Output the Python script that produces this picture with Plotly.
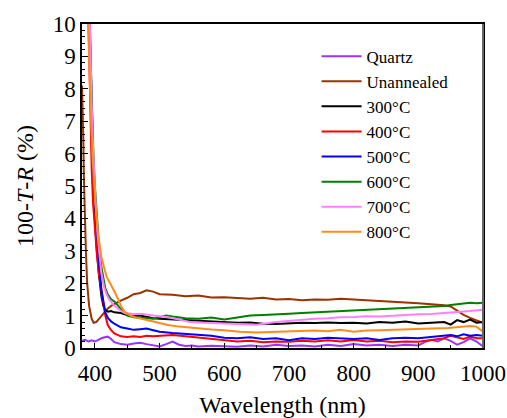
import plotly.graph_objects as go

# ---------------- data ----------------
quartz_x = [380,385,390,395,400,405,410,415,420,425,430,440,450,460,470,480,490,500,510,520,530,540,550,560,580,600,620,640,660,680,700,720,740,760,780,800,820,840,860,880,900,910,920,930,940,950,960,970,980,990,1000]
quartz_y = [0.22,0.25,0.2,0.24,0.2,0.26,0.3,0.33,0.35,0.28,0.18,0.12,0.1,0.14,0.16,0.12,0.08,0.05,0.12,0.2,0.1,0.06,0.08,0.05,0.07,0.05,0.04,0.08,0.05,0.1,0.06,0.08,0.05,0.1,0.06,0.12,0.08,0.1,0.06,0.1,0.08,0.18,0.25,0.2,0.3,0.22,0.1,0.18,0.3,0.2,0.05]

unann_x = [380,381,382,383,384,386,388,391,395,398,402,406,410,415,420,425,430,440,450,460,470,480,490,500,520,540,560,580,600,620,640,660,680,700,720,740,760,780,800,820,840,860,880,900,920,940,950,960,970,980,990,1000]
unann_y = [8.1,7.5,6.5,5.2,4.3,3.0,2.0,1.3,0.9,0.78,0.8,0.9,1.0,1.12,1.22,1.3,1.36,1.46,1.55,1.66,1.7,1.78,1.74,1.66,1.64,1.6,1.62,1.56,1.57,1.54,1.52,1.55,1.5,1.51,1.47,1.5,1.49,1.52,1.5,1.46,1.44,1.42,1.4,1.38,1.35,1.32,1.28,1.15,1.02,0.93,0.85,0.78]

t300_x = [390,392,394,396,398,400,403,406,410,413,416,420,425,430,440,450,460,470,480,490,500,520,540,560,580,600,620,640,660,680,700,720,740,760,780,800,820,840,860,880,900,920,940,950,960,970,980,990,1000]
t300_y = [11,9,7,5.5,4.5,3.8,3.0,2.3,1.6,1.3,1.17,1.12,1.14,1.1,1.08,1.02,0.98,1.0,0.95,0.92,0.9,0.88,0.86,0.85,0.82,0.8,0.78,0.79,0.75,0.74,0.76,0.78,0.77,0.79,0.77,0.78,0.76,0.8,0.78,0.82,0.76,0.78,0.8,0.72,0.86,0.8,0.88,0.78,0.8]

t400_x = [389,391,393,395,397,400,403,406,410,413,416,420,425,430,440,450,460,470,480,490,500,520,540,560,580,600,620,640,660,680,700,720,740,760,780,800,820,840,860,880,900,920,940,950,960,970,980,990,1000]
t400_y = [11,9,7,5.5,4.5,3.6,2.9,2.3,1.8,1.4,1.0,0.7,0.55,0.45,0.36,0.34,0.36,0.34,0.38,0.36,0.38,0.4,0.36,0.32,0.3,0.26,0.2,0.22,0.18,0.2,0.19,0.22,0.2,0.24,0.2,0.25,0.2,0.22,0.18,0.2,0.19,0.25,0.3,0.38,0.32,0.28,0.35,0.3,0.3]

t500_x = [391,393,395,397,399,401,404,407,410,413,416,420,425,430,440,450,460,470,480,490,500,520,540,560,580,600,620,640,660,680,700,720,740,760,780,800,820,840,860,880,900,920,940,950,960,970,980,990,1000]
t500_y = [11,9,7.5,6,5,4.3,3.3,2.5,1.8,1.4,1.1,0.93,0.82,0.75,0.64,0.6,0.56,0.58,0.6,0.55,0.5,0.46,0.44,0.42,0.38,0.32,0.3,0.33,0.28,0.3,0.24,0.3,0.28,0.32,0.3,0.28,0.3,0.25,0.3,0.32,0.3,0.34,0.38,0.4,0.36,0.42,0.38,0.4,0.38]

t600_x = [390,392,394,396,398,400,403,406,410,413,416,420,425,431,440,450,460,470,480,490,500,510,520,540,560,580,600,620,640,660,680,700,720,740,760,780,800,820,840,860,880,900,920,940,950,960,970,980,990,1000]
t600_y = [11,9.5,8,6.8,5.8,5.0,4.0,3.2,2.5,2.1,1.85,1.65,1.5,1.42,1.2,1.0,0.95,0.93,0.92,0.9,0.95,1.0,0.97,0.92,0.9,0.94,0.88,0.95,1.0,1.02,1.05,1.06,1.08,1.1,1.12,1.15,1.16,1.18,1.2,1.22,1.24,1.25,1.28,1.3,1.33,1.36,1.38,1.4,1.38,1.4]

t700_x = [391,393,395,397,399,401,404,407,410,414,418,422,426,430,440,446,460,473,490,513,530,547,570,600,624,650,680,701,720,740,760,779,800,820,840,860,875,900,920,946,960,980,1000]
t700_y = [11,9,7.5,6.2,5.2,4.5,3.5,2.8,2.3,1.9,1.65,1.5,1.38,1.3,1.15,1.08,1.05,1.05,1.0,0.95,0.88,0.8,0.78,0.75,0.74,0.72,0.8,0.84,0.88,0.9,0.92,0.95,0.96,0.98,0.97,1.0,1.02,1.04,1.05,1.08,1.1,1.14,1.18]

t800_x = [388,390,392,394,396,400,405,410,418,425,430,436,440,446,455,462,473,490,513,530,555,580,600,624,650,680,701,720,740,760,779,800,820,840,860,875,900,920,946,960,980,990,1000]
t800_y = [11,9.5,8,7,6,4.6,3.5,2.8,2.2,1.95,1.75,1.5,1.3,1.12,1.0,0.95,0.9,0.8,0.71,0.66,0.61,0.57,0.55,0.5,0.48,0.5,0.5,0.52,0.54,0.52,0.56,0.5,0.54,0.55,0.56,0.56,0.58,0.6,0.62,0.64,0.68,0.66,0.5]

names = ["Quartz", "Unannealed", "300°C", "400°C", "500°C", "600°C", "700°C", "800°C"]
colors = ["#9933FF", "#993300", "#000000", "#FF0000", "#0000FF", "#008000", "#FF80FF", "#FF8C1A"]
series = [(quartz_x, quartz_y), (unann_x, unann_y), (t300_x, t300_y), (t400_x, t400_y),
          (t500_x, t500_y), (t600_x, t600_y), (t700_x, t700_y), (t800_x, t800_y)]

FONT = "Liberation Serif, Tinos, Times New Roman, serif"

fig = go.Figure()
for (x, y), n, c in zip(series, names, colors):
    fig.add_trace(go.Scatter(x=x, y=y, mode="lines", name=n,
                             line=dict(color=c, width=2)))

fig.update_layout(
    template="none",
    width=507, height=418,
    margin=dict(l=82, r=24, t=24, b=70),
    paper_bgcolor="white", plot_bgcolor="white",
    font=dict(family=FONT, size=23, color="black"),
    showlegend=True,
    legend=dict(x=0.585, y=0.955, xanchor="left", yanchor="top",
                bgcolor="rgba(0,0,0,0)", font=dict(family=FONT, size=17, color="black"),
                tracegroupgap=0, itemwidth=40),
)
fig.update_xaxes(
    range=[380, 1000], showgrid=False, zeroline=False,
    showline=True, linecolor="black", linewidth=1.5, mirror=True,
    ticks="inside", ticklen=5, tickcolor="black", tickwidth=1,
    tickvals=[400, 500, 600, 700, 800, 900, 1000],
    minor=dict(ticks="inside", ticklen=3, tickcolor="black", dtick=50, tick0=400, showgrid=False),
    tickfont=dict(family=FONT, size=23, color="black"),
    ticklabelstandoff=4,
    title=dict(text="Wavelength (nm)", font=dict(family=FONT, size=24, color="black"), standoff=16),
)
fig.update_yaxes(
    range=[0, 10], showgrid=False, zeroline=False,
    showline=True, linecolor="black", linewidth=1.5, mirror=True,
    ticks="inside", ticklen=6, tickcolor="black", tickwidth=1,
    dtick=1, tick0=0,
    minor=dict(ticks="inside", ticklen=3, tickcolor="black", dtick=0.2, tick0=0, showgrid=False),
    tickfont=dict(family=FONT, size=23, color="black"),
    title=dict(text="100-<i>T</i>-<i>R</i> (%)", font=dict(family=FONT, size=24, color="black"), standoff=12),
)
fig.add_shape(type="line", xref="paper", yref="paper", x0=1, x1=1, y0=0, y1=1,
              line=dict(color="#666666", width=2))

fig.write_html("out.html")
